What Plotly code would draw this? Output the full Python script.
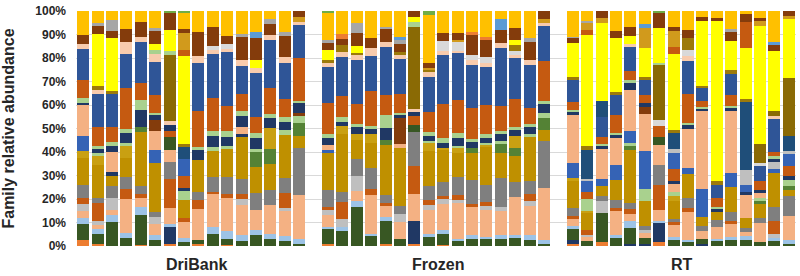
import plotly.graph_objects as go

# ---- categories -------------------------------------------------------------
dribank = [f"DriBank {i}" for i in range(1, 17)]
frozen = [f"Frozen {i}" for i in range(1, 17)]
rt = [f"RT {i}" for i in range(1, 17)]
samples = dribank + frozen + rt
axis_order = dribank + ["gap 1"] + frozen + ["gap 2"] + rt
group_labels = ["DriBank", "Frozen", "RT"]
y_ticks = [0, 10, 20, 30, 40, 50, 60, 70, 80, 90, 100]
y_tick_labels = [f"{v}%" for v in y_ticks]

# ---- family abundances (%), bottom of stack first; order: DriBank 1-16, Frozen 1-16, RT 1-16
fam_01 = [2.5,0.7,0,0,0.5,0,1,0,0.7,0,0.4,0,0,0,0,0, 1,0,0,0,0.7,0,1,0,0.5,0,0,0,0,0,0,0, 1,0,1.8,0,0,0,1.5,0,0,0,0,0,0,0,0,0]
fam_02 = [0,0,0,0,0,0,7,0,0,0,0,0,0,0,0,0, 0,0,0,0,0,0,9.5,0,0,0,0,0,0,0,0,0, 1.4,0,0,0,1,1,8.5,0,0,1,0,0,0,0,0,0]
fam_03 = [6.5,4.5,10,3.5,12.6,2.5,0,1.8,2,5,2.5,2.2,4.5,3,2,1, 6.5,6.5,16.4,4,9.8,2.8,0,3.5,4.5,2.5,3,2.8,3,3.5,2.5,1, 4.5,2.1,12,3.5,6.4,2.5,0,2.5,1.5,2,2,2.5,2.5,1.8,2,1]
fam_04 = [2.5,2,2.8,2,3,2,1.5,1.4,0,3,3.5,2.2,2,2,2,2, 0.7,1.4,2.4,1,1.4,0,0,1.4,1.6,0.7,1.4,1,1.6,1,2.1,1.7, 1.4,0,0,1,2.8,0,0.7,1.4,1,0,1,1.4,1.5,0,1.4,1.4]
fam_05 = [3,1.5,2,14,4,5,6.5,7,13,13.5,14,12.6,8.5,12,10.5,18.3, 5,0,4.2,16,4.6,7,11,10,11,15.5,11.5,11.3,10,16.2,12,21.8, 2.8,1.4,0,10,2.8,2,4.2,5,12,3.5,5,5,2,7.8,0,10]
fam_06 = [2.5,2,5,0,0,2.8,0,0,0,0,0,2.8,0,0,1.4,0, 2,3.5,6.5,0,0,3.5,0,2,2,1.4,0,1.4,1.4,0,2.1,0, 0,1,5,0,0,1.4,0,0,0,0,0,0,0,0,1.4,0]
fam_07 = [2.5,7.5,0,4,1.5,0,12.5,1.4,3.4,1,1.4,2,0,0,6.3,0, 1.4,7,0,2.5,1.4,0,11.5,2,1.4,2,1.4,2,0,0,2.8,0, 1.4,2,0,1.4,2.1,0,10.5,1.4,1.4,0,0,1.4,0,0,5.6,0]
fam_08 = [5.5,2,5,5,3.5,2,7,0,3.6,6,7.5,6.3,7,6.3,6.3,19.5, 7,4.2,7,9,3.5,3.5,14,5.6,5.5,7.7,9.5,7,12,6.3,5.6,19.7, 3.5,0,2,3.5,2.8,1.4,8.5,1.4,4.2,2.1,2.8,3.5,1.5,2.1,5.6,8.4]
fam_09 = [11,14,4,8,22.5,21,0,7.7,13.4,11,11.5,17.5,11,11,18,5, 15.5,24.5,8.2,10,20.5,24,0,14.5,13.5,10.5,11,15.5,10.5,10.6,18,4.9, 11,7,4.2,8.4,21.8,10.5,0,7.7,10,3.5,3.5,10.5,4,5.6,14,2.8]
fam_10 = [0,0,0,0,2,0,0,0,0,0,0,0,6,6,0,5.6, 0,0,0,0,2.1,0,0,0,0,0,2.1,0,3.5,3.5,0,5, 0,0,0,0,1.4,0,0,0,0,0,0,0,0,1.4,0,1.4]
fam_11 = [3,4,0,4.9,0,0,0,0,0,0,0,0,0,9,0,0, 0,3.5,2.5,4,0,0,0,3,1,2,0,1,0,4.9,0,0, 1.4,1,0,0,0,0,0,2.1,0,0,0,0,0,0,0,0]
fam_12 = [0,0.7,0,1.4,0,0,0,3.5,0,1.4,1.4,0,1.4,0,2,2.8, 0,0,0,0,0,0,0,1,0,1,0,1,1.4,0,1.4,2, 0,5,0,0,1.4,5,0,1.4,0,0,0,0,0,1,0,2.8]
fam_13 = [0,0,0,0,0,0,0,0,0,0,0,0,0,0,0,0, 0,0,0,0,0,0,0,0,0,0,0,0,0,0,0,0, 0,0,0,0,0,0,0,3.5,0,0,0,0,9.5,2.1,0,0]
fam_14 = [0,1.7,1.4,0,0,0,0,1.4,0,1,0,1.4,4.5,0,0,0, 0,1.4,0,0,0,0,0,0,0,0,0,0,0,0,0,0, 0,0,0,0,0,0,0,1.4,0,0,0,0,1.4,1.4,0,1.4]
fam_15 = [0,0,0,0,0,0,0,5,0,0,0,0,0,0,0,0, 0,0,0,0,0,0,0,0,0,0,0,0,0,0,0,0, 0,2.8,0,0,0,0,0,5,0,0,0,0,0,0,0,4.2]
fam_16 = [6,0,0,0,0,5.5,0,7,0,0,0,0,0,0,0,0, 1.4,0,0,0,0,0,0,0,0,0,0,0,0,0,0,0, 6.3,4.2,2.8,6,5,16,0,7,2.8,12,0,5.7,2.8,0,1.4,5.3]
fam_17 = [0,0,0,0,0,0,0,0,0,0,0,0,0,0,0,0, 0,0,0,0,0,0,0,0,0,0,0,0,0,0,0,0, 0,1,0,0,0,0,0,1.4,0,0,0,0,6.5,0,2.8,1.4]
fam_18 = [12.5,0,8.5,0,0,8,5,0,0,0,0,2.8,0,0,0,0, 2,0,0,0,0,1.5,0,0,0,0,0,0,0,0,0,0, 20,0,12.5,11.5,16.8,15.5,8.4,0,16.2,33,0,25.3,0,0,0,0]
fam_19 = [0,0,0,0,0,0,5.5,0,0,0,0,0,0,0,0,0, 0,0,0,0,0,0,3,0,0,0,0,0,0,0,0,0, 0,0,0,0,0,0,3.5,0,0,0,0,0,0,0,0,0]
fam_20 = [0,0,0,0,0,0,2.5,0,0,0,0,0,0,0,0,0, 0,0,0,0,0,0,4,0,0,0,0,0,0,0,0,0, 0,0,0,0,0,0,4.4,0,0,0,0,0,0,0,0,0]
fam_21 = [0,0,0,0,0,4.5,0,0,0,0,0,0,0,0,0,1.4, 0,0,0,0,0,11,0,0,0,0,0,0,0,0,0,0, 0,0,0,0,0,3,0,0,0,0,0,0,0,0,0,0]
fam_22 = [1,0,2.2,4.2,7,2.5,2.5,0,4.2,3.5,4,4.6,0,4.2,3.5,4, 2.8,0,2.8,2,5,1,1.4,2,2.1,3.5,2.5,2.1,2.8,2.8,2.8,4.2, 1.4,0,1,1.4,2.8,1.4,0,0,2,0.7,1.4,1.4,0,0,1.4,0]
fam_23 = [2,1.4,1.8,1.4,4.5,0.7,0,0,1.4,2,2.5,2,2,1.4,2,1, 2,2,1.4,1.4,5.6,1,0,1.4,2.1,2,1.4,1.4,1.4,1,1.4,0.7, 0.7,0,1,0.7,1.4,0,0,0,0.7,0.5,0.7,1,0,0,1.4,0]
fam_24 = [7.5,8,6.3,17,7,7.7,0,0,15,14,10.5,7,6.5,11,7.7,18, 12.7,9,8.4,14.5,8.4,7.7,0,8.5,14,14.6,12.7,12,10,12,6.5,17, 3.5,0,2.8,7.4,3.5,3.5,0,0,12,2.8,3.5,4.2,0,3.5,1.4,0]
fam_25 = [12.5,14,13.4,14,17,14,0,0,20,18,22.5,12,18.5,20,14.8,13.5, 15.5,16.5,18.3,14.5,19.7,14.8,0,14,20.6,20,17.6,16,24,17,18,14.8, 9,0,8.4,8.4,9.8,6.3,0,0,14,5.6,5.7,9,0,6.3,13.4,0]
fam_26 = [0,0,0,0,0,0,0,4.9,0,0,0,0,0,0,0,0, 0,0,0,0,0,0,0,0,0,0,0,0,0,0,0,0, 0,12,6.3,0,0,0,0,7,0,0,0,0,28,0,0,6.3]
fam_27 = [2,1.7,0,5,2,3.4,2,0,2.8,1.5,1.5,2.5,2,2,2.6,1.4, 1.4,2,2,3,2.1,1.4,1.4,2,1.5,1,2,1.4,2,1.4,2,1.4, 0,0,0,0,1.4,0,0,0,2,0,0,0,0,0,1.4,0]
fam_28 = [0,0,0,0,0,0,0,0,0,2,2,0,0,0,0,0, 0,0,0,0,0,0,0,0,4,4,2,2.8,0,1.4,0,0, 0,0,0,0,0,0,2.6,0,2.8,0,0,0,0,1.4,0,0]
fam_29 = [0,0,0,0,0,0,28,0,0,0,0,0,0,0,0,0, 0,0,0,0,0,0,34,0,0,0,0,0,0,0,0,0, 0,0,0,0,0,0,23.3,0,0,0,0,0,0,7.7,2.1,24]
fam_30 = [0,0,0,0,0,1.4,1.4,0,0,0,0,0,0,0,0,0, 0,0,0,0,0,0,2,0,0,0,0,0,0,0,0,0, 0,0,0,0,0,0,0.7,0,0,0,0,0,0,0,0,0]
fam_31 = [0,1.4,1,0,0,0,0,1.4,0,0,0,0,0,0,0,0, 1.4,2.8,1,0,0,1.4,0,1,0,0,0,0,0,2.8,0,0, 1.4,1.4,0,1.4,0,1.4,0,1.4,4.9,0.7,1.4,1.4,1.4,0,0,0]
fam_32 = [0,22,22,0,0,2.8,9,36.6,0,0,0,0,3.4,0,0,0, 4.2,0,2.8,0,0,0,2,0,0,0,0,0,0,2.1,0,0, 14,45.7,32.5,22.5,3.5,12,14.8,32.4,0,27.4,66.9,12,21,48.5,24.6,24.8]
fam_33 = [0,0,0,0,0,0,0,2.8,0,0,0,0,0,0,0,0, 0,0,0,0,0,0,0,0,0,0,0,0,0,0,0,0, 0,2.1,0,0,0,0,0,2.8,0,0,0,0,11,0,0,0]
fam_34 = [0,0,0,0,0,0,0,7,0,0,0,0,0,0,0,2, 0,0,0,0,0,0,0,1,0,0.7,0,0,0,0,0,1.4, 0,2.9,2.1,0,0,8.4,0,7,0,0,0,0,0,2.1,0,1.4]
fam_35 = [3.5,3.2,3,5.5,6.5,5.5,7,1.4,10,7.7,3.5,9.3,9,4.5,9,2.5, 2.8,2.8,5.7,4.5,5.5,3.5,2.5,2,3.7,3,8,7,5.6,5,7.7,3.5, 2.2,0,2.8,2.8,3.5,0,6.3,1.4,3.5,1.4,1.4,3.5,3,1.4,2.1,2.1]
fam_36 = [0,1.5,4.5,0,0,1.4,0,0,0,0,0,1.4,0,2,1.4,0, 1.4,0,4.2,0,1,1.5,0,0,0,0,0,0,0,0,1.4,0, 0.5,0.7,0,0,0,0,0,0,0,0,0,1.4,0,0,0,0]
fam_37 = [0,0,0,0,0,0,0,0,0,0,0,0,0,0,0,0, 0,2,0,0,0,0,0,0,0,0,1.4,1.4,0,0,0,0, 0,0,0,0,0,0,0,0,0,0,0,0,0,0,0,0]
fam_38 = [0,0,0,0,0,0,0,0,0,0,0,0,2.7,0,0,0, 0,0,0,0,0,1.4,0,0,0,0,0,0,4.2,0,0,0, 0,0,0,0,0,1.4,0,0,0,0,0,0,0,0,1.4,0]
fam_39 = [10,5,3.5,7.5,4.5,7,0,7,9,6.6,10.5,9.6,8.6,3.5,9,0, 11.5,9.6,5,11,6.6,10.6,0,19.6,9,9.6,8.5,10.6,3.5,7,11.3,0, 10.7,4.2,0,8.4,6.6,5.6,0,7,7.8,2.6,2.8,7.4,1.4,2.8,12.7,0]
fam_40 = [0,0,0,0,0,0,1,0.7,0,0,0,0,0,0,0,0, 0.7,0,0,0,0,0,0,1.5,0,0,0,0,0,0,0,0, 0,0,0,0,0,0,0.7,0,0,0,0,0,0,0,0,0]

family_colors = [
    "#ED7D31", "#203864", "#385723", "#9DC3E6", "#F4B183", "#BFBFBF", "#C55A11", "#7F7F7F",
    "#BF9000", "#548235", "#C9A012", "#A9D18E", "#F4B183", "#203864", "#C55A11", "#3563B5",
    "#BFBFBF", "#F4B183", "#385723", "#C55A11", "#843C0C", "#203864", "#A9D18E", "#C55A11",
    "#2F5597", "#1F4E79", "#F8CBAD", "#D9D9D9", "#8A6A05", "#A9D18E", "#9C7A0A", "#FFFF00",
    "#C55A11", "#D19A1C", "#843C0C", "#A6A6A6", "#ED7D31", "#5B9BD5", "#FFC000", "#70AD47",
]

families = [fam_01, fam_02, fam_03, fam_04, fam_05, fam_06, fam_07, fam_08, fam_09, fam_10,
            fam_11, fam_12, fam_13, fam_14, fam_15, fam_16, fam_17, fam_18, fam_19, fam_20,
            fam_21, fam_22, fam_23, fam_24, fam_25, fam_26, fam_27, fam_28, fam_29, fam_30,
            fam_31, fam_32, fam_33, fam_34, fam_35, fam_36, fam_37, fam_38, fam_39, fam_40]

FONT = "Arial, Liberation Sans, sans-serif"
TXT = "#262626"

fig = go.Figure()
for k, (vals, col) in enumerate(zip(families, family_colors), start=1):
    fig.add_trace(go.Bar(
        x=samples, y=vals, name=f"Family {k}",
        marker=dict(color=col, line=dict(width=0)),
        showlegend=False,
    ))

group_pos = [7.9, 24.65, 41.6]
annotations = [
    dict(x=p, y=-0.08, xref="x", yref="paper", text=t, showarrow=False,
         xanchor="center", yanchor="middle",
         font=dict(family=FONT, size=16, color=TXT, weight="bold"))
    for p, t in zip(group_pos, group_labels)
]

fig.update_layout(
    width=800, height=276,
    margin=dict(l=73, r=4, t=9, b=30),
    barmode="stack", barnorm="percent", bargap=0.16,
    plot_bgcolor="white", paper_bgcolor="white",
    annotations=annotations,
    xaxis=dict(type="category", categoryorder="array", categoryarray=axis_order,
               range=[-0.5, len(axis_order) - 0.5], showticklabels=False,
               showgrid=False, zeroline=False, showline=False, ticks=""),
    yaxis=dict(range=[0, 100], tickmode="array", tickvals=y_ticks, ticktext=y_tick_labels,
               showgrid=True, gridcolor="#D9D9D9", gridwidth=1, zeroline=False,
               showline=False, ticks="", ticklabelstandoff=9,
               tickfont=dict(family=FONT, size=12, color=TXT, weight="bold"),
               title=dict(text="Family relative abundance", standoff=20,
                          font=dict(family=FONT, size=16, color=TXT, weight="bold"))),
)

fig.write_html("out.html", config={"displayModeBar": False},
               post_script="document.body.style.margin='0';")
